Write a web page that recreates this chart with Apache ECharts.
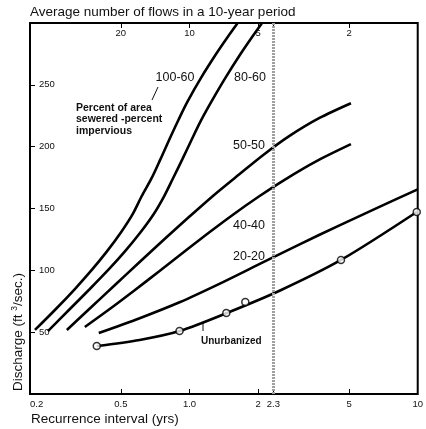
<!DOCTYPE html>
<html><head><meta charset="utf-8">
<script src="https://cdn.jsdelivr.net/npm/echarts@6/dist/echarts.min.js"></script>
<style>html,body{margin:0;padding:0;background:#fff}#c{width:426px;height:429px}</style>
</head><body><div id="c"></div>
<script>
// Recurrence interval (yrs) and discharge (ft3/sec)
const t100_60 = [0.2103,0.2571,0.3145,0.3731,0.4338,0.4995,0.5636,0.6170,0.6822,0.7469,0.8176,0.8952,0.9798,1.1279,1.3115,1.4647,1.6201];
const q100_60 = [51.8,67.9,84.9,100.3,115.1,130.4,145.4,159.9,174.5,190.1,206.2,221.8,236.4,256.2,275.3,288.3,299.6];
const t80_60 = [0.2397,0.2961,0.3657,0.4404,0.5200,0.6077,0.6961,0.7737,0.8470,0.9319,1.0251,1.1279,1.2473,1.4427,1.6781,1.8741,2.0726];
const q80_60 = [50.9,67.9,84.9,100.3,115.1,130.4,145.4,159.9,174.5,190.1,206.2,221.8,236.4,256.2,275.3,288.3,299.6];
const t50_50 = [0.2901,0.3657,0.4701,0.6047,0.7776,0.9997,1.2854,1.6531,2.1254,2.7329,3.6960,5.0978];
const q50_50 = [51.8,69.1,87.9,106.7,125.3,143.5,161.2,177.7,193.9,208.5,223.0,235.1];
const t40_40 = [0.3478,0.4471,0.5750,0.7394,0.9507,1.2225,1.5720,2.0210,2.5988,3.5860,5.0978];
const q40_40 = [54.2,68.7,83.9,99.5,115.2,130.8,145.8,159.9,173.0,188.1,202.0];
const t20_20 = [0.4003,0.6047,0.9043,1.3517,2.0210,3.0220,4.5180,6.7564,10.0];
const q20_20 = [49.3,61.3,74.2,89.1,105.0,120.8,136.2,151.1,165.5];
const tUnurb = [0.3923,0.6047,0.9043,1.4944,2.5218,4.6098,9.902];
const qUnurb = [38.8,43.7,50.9,66.3,84.1,108.4,147.2];
const tObs = [0.3923,0.9043,1.4500,1.7556,4.6098,9.902];
const qObs = [38.8,50.9,65.5,74.4,108.4,147.2];
const meanAnnualFlood = 2.33;

const bottomTicks = [0.2,0.5,1,2,2.33,5,10];
const bottomTickLabels = ['0.2','0.5','1.0','2','2.3','5','10'];
const topTicks = [0.5,1,2,5];
const topTickLabels = ['20','10','5','2'];

const FONT = '"Liberation Sans", Arial, Helvetica, sans-serif';
function pairs(t, q){ return t.map((v,i)=>[v,q[i]]); }
function lookup(vals, labels){
  return function(v){ for (let i=0;i<vals.length;i++){ if (Math.abs(vals[i]-v) < 1e-3*vals[i]) return labels[i]; } return ''; };
}
function curve(name, t, q){
  return { name, type:'line', xAxisIndex:0, yAxisIndex:0, data: pairs(t,q), smooth:0.3,
    showSymbol:false, symbol:'none', z:3, lineStyle:{color:'#000', width:2.6}, silent:true };
}

const chart = echarts.init(document.getElementById('c'), null, {renderer:'canvas'});
chart.setOption({
  animation:false,
  backgroundColor:'#fff',
  grid:{left:30, right:7, top:23, bottom:35, show:true, borderColor:'#000', borderWidth:2},
  xAxis:[
    { type:'log', position:'bottom', min:0.2, max:10, logBase:10,
      axisLine:{show:false}, splitLine:{show:false}, minorTick:{show:false},
      axisTick:{show:true, inside:true, length:5, lineStyle:{color:'#000', width:1}, customValues: bottomTicks},
      axisLabel:{show:true, margin:5, fontSize:9.5, color:'#111', fontFamily:FONT, customValues: bottomTicks,
        formatter: lookup(bottomTicks, bottomTickLabels), alignMinLabel:'left', alignMaxLabel:'center'} },
    { type:'log', position:'top', min:0.2, max:10, logBase:10,
      axisLine:{show:false}, splitLine:{show:false},
      axisTick:{show:true, inside:true, length:5, lineStyle:{color:'#000', width:1}, customValues: [0.5,1,2,meanAnnualFlood,5]},
      axisLabel:{show:true, inside:true, margin:5, fontSize:9.5, color:'#111', fontFamily:FONT, customValues: topTicks,
        formatter: lookup(topTicks, topTickLabels)} }
  ],
  yAxis:[
    { type:'value', min:0, max:300, interval:50,
      axisLine:{show:false}, splitLine:{show:false},
      axisTick:{show:true, inside:true, length:5, lineStyle:{color:'#000', width:1}},
      axisLabel:{show:true, inside:true, margin:9, fontSize:9.5, color:'#111', fontFamily:FONT,
        showMinLabel:false, showMaxLabel:false} }
  ],
  series:[
    { name:'mean', type:'line', data:[], z:1, silent:true,
      markLine:{ silent:true, symbol:['none','none'], label:{show:false},
        lineStyle:{color:'#a0a0a0', width:3, type:[2,1]},
        data:[{xAxis: meanAnnualFlood}] } },
    curve('100-60', t100_60, q100_60),
    curve('80-60', t80_60, q80_60),
    curve('50-50', t50_50, q50_50),
    curve('40-40', t40_40, q40_40),
    curve('20-20', t20_20, q20_20),
    curve('Unurbanized', tUnurb, qUnurb),
    { name:'observed', type:'scatter', data: pairs(tObs,qObs), symbol:'circle', symbolSize:7, z:4, silent:true,
      itemStyle:{color:'#fff', borderColor:'#000', borderWidth:1.5} }
  ],
  graphic:[
    { type:'text', left:30, top:5, style:{text:'Average number of flows in a 10-year period', fontSize:13.5, fontFamily:FONT, fill:'#111'} },
    { type:'text', left:31, top:412, style:{text:'Recurrence interval (yrs)', fontSize:13.5, fontFamily:FONT, fill:'#111'} },
    { type:'text', x:18, y:332, rotation:Math.PI/2,
      style:{ text:'{a|Discharge (ft }{s|3}{a|/sec.)}', align:'center', verticalAlign:'middle',
        rich:{ a:{fontSize:13.5, fontFamily:FONT, fill:'#111', lineHeight:16}, s:{fontSize:8.5, fontFamily:FONT, fill:'#111', verticalAlign:'top', lineHeight:16} } } },
    { type:'text', x:175, y:78, style:{text:'100-60', fontSize:12.5, fontFamily:FONT, fill:'#111', align:'center', verticalAlign:'middle'} },
    { type:'text', x:250, y:78, style:{text:'80-60', fontSize:12.5, fontFamily:FONT, fill:'#111', align:'center', verticalAlign:'middle'} },
    { type:'text', x:249, y:146, style:{text:'50-50', fontSize:12.5, fontFamily:FONT, fill:'#111', align:'center', verticalAlign:'middle'} },
    { type:'text', x:249, y:226, style:{text:'40-40', fontSize:12.5, fontFamily:FONT, fill:'#111', align:'center', verticalAlign:'middle'} },
    { type:'text', x:249, y:257, style:{text:'20-20', fontSize:12.5, fontFamily:FONT, fill:'#111', align:'center', verticalAlign:'middle'} },
    { type:'text', x:201, y:341, style:{text:'Unurbanized', fontSize:10, fontWeight:'bold', fontFamily:FONT, fill:'#111', align:'left', verticalAlign:'middle'} },
    { type:'text', x:76, y:102, style:{text:'Percent of area\nsewered -percent\nimpervious', fontSize:10.5, lineHeight:11.5, fontWeight:'bold', fontFamily:FONT, fill:'#111', align:'left', verticalAlign:'top'} },
    { type:'line', shape:{x1:158, y1:87, x2:152, y2:100}, style:{stroke:'#111', lineWidth:1} },
    { type:'line', shape:{x1:203, y1:323, x2:203, y2:331}, style:{stroke:'#111', lineWidth:1} }
  ]
});
</script>
</body></html>
